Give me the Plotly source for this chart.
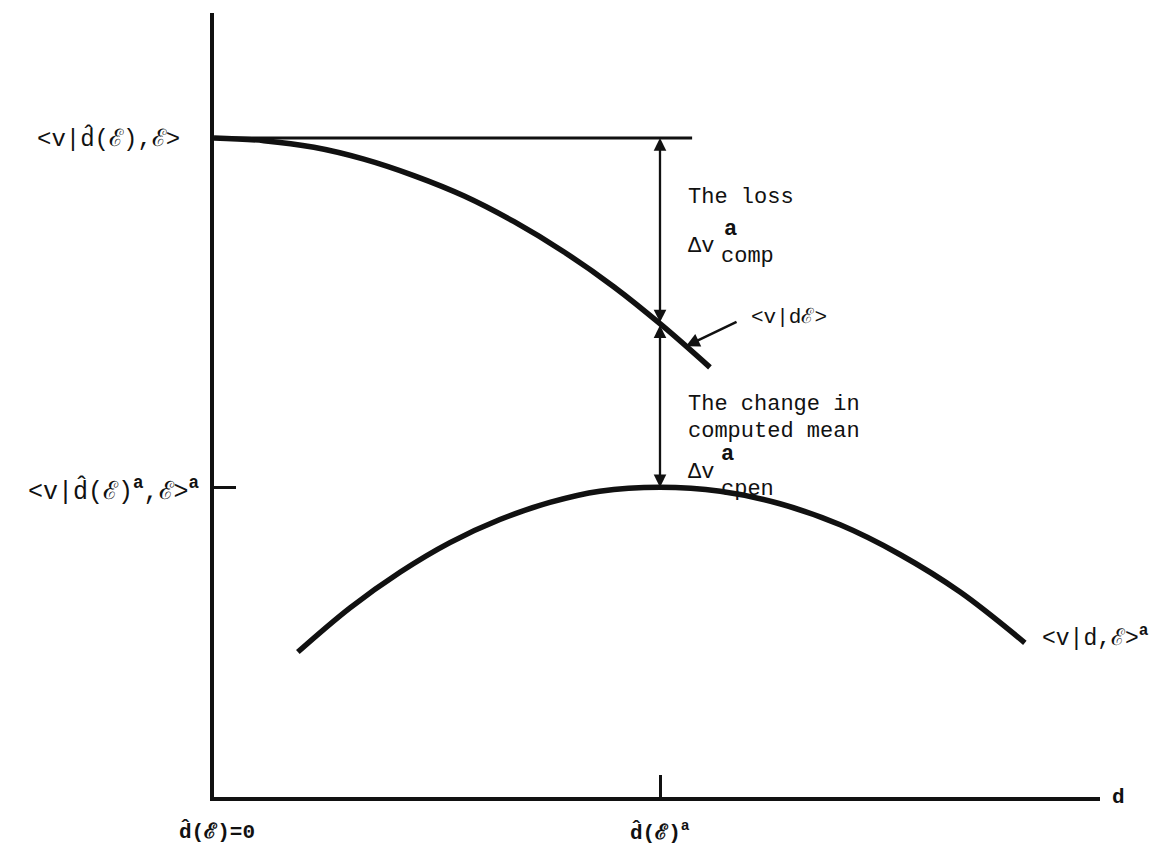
import plotly.graph_objects as go

# ---- data (arbitrary units) ----
# upper curve  <v|d,E>  (computed value, tangent at d=0)
d_upper = [0.0, 0.112, 0.224, 0.336, 0.448, 0.561, 0.673, 0.785, 0.897, 1.004, 1.112]
v_upper = [1.000, 0.996, 0.986, 0.968, 0.943, 0.912, 0.873, 0.827, 0.774, 0.716, 0.652]

# lower curve  <v|d,E>^a  (actual value, max at d_hat(E)^a)
d_lower = [0.188, 0.305, 0.417, 0.529, 0.641, 0.753, 0.865, 1.0, 1.135, 1.269, 1.404, 1.538, 1.673, 1.818]
v_lower = [0.220, 0.287, 0.341, 0.386, 0.421, 0.447, 0.464, 0.470, 0.464, 0.445, 0.413, 0.368, 0.311, 0.234]

# reference levels
d_hat_0 = 0.0          # d_hat(E) = 0
d_hat_a = 1.0          # d_hat(E)^a
v_top = 1.0            # <v|d_hat(E),E>
v_peak = 0.470         # <v|d_hat(E)^a,E>^a
v_cross = 0.718        # <v|d E> at d_hat(E)^a
d_topline_end = 1.072  # end of horizontal reference line

x_max = 886 / 446
y_max = 784 / 659

MONO = "Liberation Mono, DejaVu Sans Mono, monospace"
INK = "#111111"

fig = go.Figure()

fig.add_trace(go.Scatter(x=[d_hat_0, d_topline_end], y=[v_top, v_top], mode="lines",
                         line=dict(color=INK, width=3), hoverinfo="skip", showlegend=False))
fig.add_trace(go.Scatter(x=d_upper, y=v_upper, mode="lines", line=dict(color=INK, width=5.5, shape="spline"),
                         hoverinfo="skip", showlegend=False))
fig.add_trace(go.Scatter(x=d_lower, y=v_lower, mode="lines", line=dict(color=INK, width=5.5, shape="spline"),
                         hoverinfo="skip", showlegend=False))

ann = []
# double-headed arrows
for (y0, y1) in [(v_top, v_cross), (v_peak, v_cross)]:
    ann.append(dict(x=d_hat_a, y=y0, ax=d_hat_a, ay=y1, xref="x", yref="y", axref="x", ayref="y",
                    text="", showarrow=True, arrowhead=2, startarrowhead=2, arrowside="end+start",
                    arrowsize=1.1, startarrowsize=1.1, arrowwidth=2.3, arrowcolor=INK,
                    standoff=0, startstandoff=0))
# pointer to the crossing point
ann.append(dict(x=1.058, y=0.684, ax=1.175, ay=0.722, xref="x", yref="y", axref="x", ayref="y",
                text="", showarrow=True, arrowhead=2, arrowsize=1.1, arrowwidth=2.5, arrowcolor=INK,
                standoff=0))

def txt(x, y, s, size=22, xanchor="left", xshift=0, yshift=0, xref="x"):
    ann.append(dict(x=x, y=y, xref=xref, yref="y", text=s, showarrow=False, xanchor=xanchor,
                    yanchor="middle", xshift=xshift, yshift=yshift,
                    font=dict(family=MONO, size=size, color=INK)))

dh = "d\u0302"
E = "\u2130"

# y-axis labels
txt(d_hat_0, v_top, f"&lt;v|{dh}({E}),{E}&gt;", size=24, xanchor="right", xshift=-32)
txt(d_hat_0, v_peak, f"&lt;v|{dh}({E})<sup><b>a</b></sup>,{E}&gt;<sup><b>a</b></sup>", size=25,
    xanchor="right", xshift=-12, yshift=-3)
# x-axis labels
txt(d_hat_0, 0, f"<b>{dh}({E})=0</b>", size=21, xanchor="center", xshift=3, yshift=-34)
txt(d_hat_a, 0, f"<b>{dh}({E})<sup>a</sup></b>", size=21, xanchor="center", yshift=-34)
txt(1.0, 0, "<b>d</b>", size=21, xanchor="left", xshift=10, xref="paper")

# annotations on the right of the arrows
txt(1.058, 0.910, "The loss")
txt(1.058, 0.836, "\u0394v")
txt(1.140, 0.861, "<b>a</b>")
txt(1.132, 0.820, "comp")
txt(1.200, 0.728, f"&lt;v|d{E}&gt;", size=21)
txt(1.058, 0.595, "The change in")
txt(1.058, 0.554, "computed mean")
txt(1.058, 0.493, "\u0394v")
txt(1.132, 0.519, "<b>a</b>")
txt(1.132, 0.466, "cpen")

# curve label
txt(1.852, 0.236, f"&lt;v|d,{E}&gt;<sup><b>a</b></sup>", size=23, yshift=4)

# page body has an 8px margin: shrink the figure so the drawing lands where the reference has it
fig.update_layout(
    width=1154, height=840,
    margin=dict(l=206, r=62, t=5, b=51),
    paper_bgcolor="white", plot_bgcolor="white",
    showlegend=False,
    annotations=ann,
    xaxis=dict(range=[0, x_max], showgrid=False, zeroline=False, showline=True, linewidth=4,
               linecolor=INK, ticks="inside", ticklen=22, tickwidth=2.5, tickcolor=INK,
               tickvals=[d_hat_a], showticklabels=False, fixedrange=True),
    yaxis=dict(range=[0, y_max], showgrid=False, zeroline=False, showline=True, linewidth=4,
               linecolor=INK, ticks="inside", ticklen=22, tickwidth=2.5, tickcolor=INK,
               tickvals=[v_peak], showticklabels=False, fixedrange=True),
)

fig.write_html("out.html")
